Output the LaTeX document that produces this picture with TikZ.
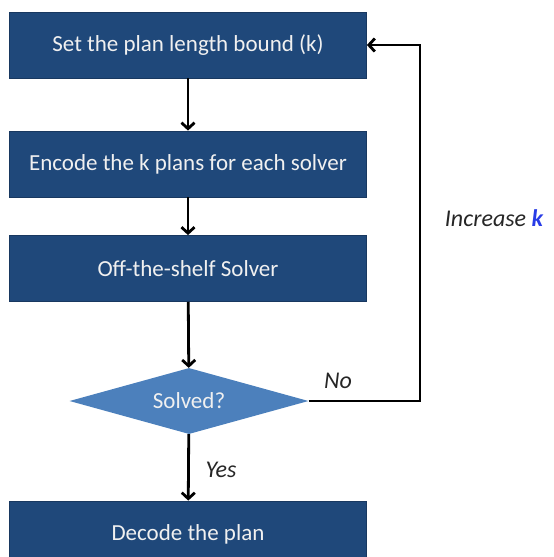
\documentclass[tikz,border=0pt]{standalone}
\usepackage{fontspec}
\setmainfont{Carlito}
\usetikzlibrary{shapes.geometric,arrows.meta}
\definecolor{boxblue}{RGB}{31,72,122}
\definecolor{boxedge}{RGB}{24,56,96}
\definecolor{diablue}{RGB}{76,128,188}
\definecolor{kblue}{RGB}{40,60,230}
\tikzset{
  stepbox/.style={rectangle, fill=boxblue, draw=boxedge, line width=0.8pt,
    minimum width=357pt, minimum height=66pt, inner sep=0pt,
    text=white!94!black, font=\fontsize{23}{26}\selectfont},
  decision/.style={diamond, fill=diablue, draw=none, aspect=3.6,
    minimum width=239pt, minimum height=66pt, inner sep=0pt,
    text=white!94!black, font=\fontsize{23}{26}\selectfont},
  flow/.style={line width=2.8pt, draw=black,
    -{Straight Barb[length=6pt,width=13pt,line width=2.8pt]}},
  lbl/.style={font=\fontsize{24}{27}\selectfont\itshape, text=black!85}
}
\begin{document}
\begin{tikzpicture}[x=1pt,y=-1pt]
  \useasboundingbox (0,0) rectangle (554,557);
  \clip (0,0) rectangle (554,557);

  \node[stepbox] (b1) at (188,45) {Set the plan length bound (k)};
  \node[stepbox] (b2) at (188,164) {Encode the k plans for each solver};
  \node[stepbox] (b3) at (188,268.5) {Off-the-shelf Solver};
  \node[decision] (dec) at (189,401) {Solved?};
  \node[stepbox] (b4) at (188,534) {Decode the plan};

  \coordinate (corner) at (420,45);

  \draw[flow] (b1) -- (b2);
  \draw[flow] (b2) -- (b3);
  \draw[flow] (b3) -- (dec);
  \draw[flow] (dec) -- (b4);
  \draw[flow] (dec.east) -| (corner) -- (b1.east);

  \node[lbl] (no) at (338,381) {No};
  \node[lbl] (yes) at (221,470) {Yes};
  \node[lbl] (inc) at (494,218) {Increase \textcolor{kblue}{\bfseries k}};
\end{tikzpicture}
\end{document}
